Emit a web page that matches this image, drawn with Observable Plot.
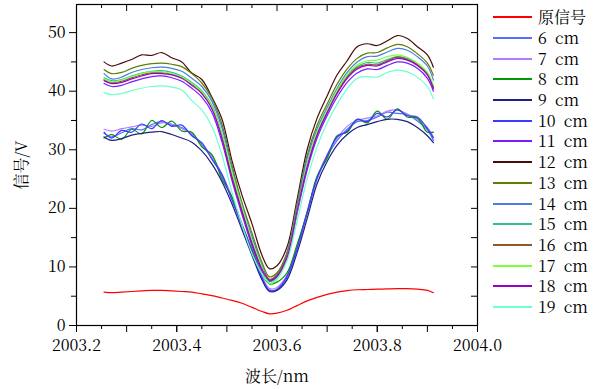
<!DOCTYPE html>
<html><head><meta charset="utf-8">
<script src="https://cdn.jsdelivr.net/npm/d3@7"></script>
<script src="https://cdn.jsdelivr.net/npm/@observablehq/plot@0.6"></script>
<style>
body{margin:0;background:#fff;}
#wrap{position:relative;width:601px;height:389px;color:#000;font-family:'Noto Serif CJK SC',serif;}
#legend{position:absolute;left:493px;top:7px;font-size:16px;line-height:1;font-family:'Noto Serif CJK SC',serif;}
.item{display:flex;align-items:center;height:20.7px;white-space:nowrap;line-height:1;}
.sw{display:block;width:39px;height:2px;margin-right:6px;flex:none;}
.lab{word-spacing:4px;line-height:1;}
</style></head><body><div id="wrap"><div id="legend"></div></div>
<script>
const wavelength = [2003.255,2003.27,2003.29,2003.31,2003.33,2003.35,2003.37,2003.39,2003.41,2003.43,
  2003.45,2003.47,2003.49,2003.51,2003.53,2003.55,2003.57,2003.585,2003.60,2003.62,
  2003.64,2003.66,2003.68,2003.70,2003.72,2003.74,2003.76,2003.78,2003.80,2003.82,
  2003.84,2003.86,2003.88,2003.90,2003.912];

const seriesNames = ["原信号","6 cm","7 cm","8 cm","9 cm","10 cm","11 cm","12 cm","13 cm","14 cm","15 cm","16 cm","17 cm","18 cm","19 cm"];
const seriesColors = ["#ff0000","#4f6fff","#b07cff","#009900","#202080","#3c3cff","#7a1cff","#4a0a0a","#5f7f00","#4a7fe0","#2fc08a","#8b5a2b","#7fff3a","#9a00c8","#6dffcf"];

const original = [5.7,5.6,5.7,5.8,5.9,6.0,6.0,5.9,5.8,5.7,5.4,5.1,4.7,4.3,3.8,3.1,2.4,2.0,2.1,2.6,3.4,4.2,4.8,5.3,5.7,5.95,6.1,6.15,6.2,6.25,6.3,6.3,6.2,6.0,5.6];
const cm6 = [32.8,32.2,32.9,33.6,33.4,34.3,34.8,34.2,33.8,32.6,30.8,28.6,25.5,21.6,17.0,12.5,8.0,5.9,6.1,8.2,13.0,19.0,25.0,28.8,31.6,33.5,34.8,35.0,35.6,36.4,36.2,36.0,34.9,33.4,31.6];
const cm7 = [33.5,33.2,33.6,33.9,34.2,34.0,34.6,34.4,33.6,32.8,31.0,28.9,25.9,22.0,17.4,12.9,8.4,6.3,6.5,8.6,13.3,19.4,25.3,29.2,32.0,34.0,35.0,35.4,35.8,36.6,36.8,36.1,35.2,33.8,32.2];
const cm8 = [32.0,32.6,31.8,33.5,32.7,35.0,33.8,34.9,33.2,33.0,30.5,29.2,25.0,22.0,17.2,13.0,8.8,7.1,7.4,9.0,13.8,19.2,25.5,28.5,32.4,33.0,35.2,34.6,36.6,35.2,37.0,35.6,35.4,33.0,33.0];
const cm9 = [32.2,31.6,31.9,32.5,32.8,33.0,33.1,32.6,32.0,31.3,29.8,27.6,24.6,20.8,16.4,12.0,7.8,5.8,6.0,7.8,12.4,18.2,24.2,28.0,30.8,32.6,33.8,34.3,34.8,35.2,35.2,34.8,33.8,32.4,31.2];
const cm10 = [33.0,32.0,33.3,33.0,34.4,33.6,35.0,34.0,34.2,32.4,31.2,28.4,25.8,21.4,17.2,12.6,8.2,6.0,6.2,8.4,13.2,19.3,25.2,29.0,32.2,33.2,35.2,34.8,36.2,35.6,36.8,35.8,35.6,33.6,32.0];
const cm11 = [41.3,40.8,41.0,41.6,42.1,42.5,42.6,42.3,41.7,40.5,39.0,36.4,31.4,24.8,19.0,13.6,9.3,7.5,8.2,11.4,19.1,26.5,32.0,35.8,39.0,41.5,43.1,43.8,43.7,44.4,45.0,44.8,43.9,42.2,40.0];
const cm12 = [45.0,44.3,44.8,45.4,46.2,46.1,46.6,45.7,45.0,43.1,42.0,39.0,35.3,28.2,22.3,17.4,12.0,9.7,10.2,13.4,21.5,30.0,35.4,39.2,42.8,45.2,47.6,48.1,47.8,48.6,49.5,49.0,47.6,46.2,44.1];
const cm13 = [43.7,43.0,43.2,43.9,44.4,44.7,44.8,44.6,44.2,43.0,41.4,38.8,34.4,27.4,21.0,15.8,10.8,8.3,9.0,12.5,20.8,29.0,34.2,37.8,41.2,43.8,45.6,46.5,46.6,47.4,48.0,47.6,46.4,44.8,42.7];
const cm14 = [43.0,42.1,42.4,43.2,43.7,44.0,44.1,43.9,43.4,42.2,40.8,38.3,33.8,26.8,20.5,15.2,10.3,7.8,8.6,12.3,20.3,28.5,33.6,37.2,40.5,43.2,45.0,45.9,46.0,46.7,47.3,47.0,45.9,44.3,41.9];
const cm15 = [42.3,41.8,42.0,42.6,43.1,43.4,43.5,43.2,42.6,41.5,40.1,37.6,32.8,26.0,20.0,14.4,9.8,7.6,8.4,11.9,19.8,27.6,33.0,36.7,40.0,42.6,44.2,44.9,44.8,45.4,45.9,45.6,44.6,43.0,40.8];
const cm16 = [42.0,41.5,41.7,42.3,42.8,43.2,43.2,42.9,42.3,41.2,39.8,37.3,32.5,25.6,19.8,14.3,9.9,7.9,8.7,12.0,19.6,27.2,32.7,36.4,39.8,42.4,44.0,44.6,44.5,45.2,45.8,45.4,44.5,42.9,40.6];
const cm17 = [42.1,41.6,41.9,42.5,43.0,43.3,43.3,43.0,42.4,41.3,39.9,37.4,32.8,26.2,20.3,14.6,10.0,7.2,7.9,11.5,19.4,27.5,33.1,36.8,40.2,42.8,44.5,45.2,45.3,45.9,46.2,45.8,44.8,43.2,41.0];
const cm18 = [41.8,41.3,41.5,42.1,42.6,43.0,43.0,42.8,42.2,41.0,39.6,37.0,32.0,25.2,19.5,14.0,9.6,7.7,8.4,11.6,19.5,27.0,32.5,36.3,39.6,42.2,43.8,44.4,44.3,45.0,45.6,45.3,44.4,42.8,40.4];
const cm19 = [39.8,39.4,39.6,40.1,40.5,40.8,40.9,40.7,40.2,38.4,36.8,34.0,29.2,22.8,17.2,12.3,8.8,7.3,8.0,11.0,17.8,25.0,30.5,34.6,37.8,40.4,42.2,42.5,42.4,43.2,43.6,43.3,42.4,40.8,38.7];

const xLabelTicks = [2003.2, 2003.4, 2003.6, 2003.8, 2004.0];
const xMajorTicks = [2003.2,2003.3,2003.4,2003.5,2003.6,2003.7,2003.8,2003.9,2004.0];
const xMinorTicks = [2003.25,2003.35,2003.45,2003.55,2003.65,2003.75,2003.85,2003.95];
const yLabelTicks = [0,10,20,30,40,50];
const yMinorTicks = [5,15,25,35,45];
const yAllTicks = [0,5,10,15,20,25,30,35,40,45,50];

const allValues = [original,cm6,cm7,cm8,cm9,cm10,cm11,cm12,cm13,cm14,cm15,cm16,cm17,cm18,cm19];
const rows = [];
allValues.forEach((vals, i) => vals.forEach((v, j) => rows.push({series: seriesNames[i], x: wavelength[j], y: v})));

const font = "'Noto Serif CJK SC', serif";
const plot = Plot.plot({
  width: 601, height: 389,
  marginLeft: 76, marginRight: 124, marginTop: 4, marginBottom: 64,
  style: {fontFamily: font, fontSize: "16px", color: "#000", background: "#fff"},
  x: {domain: [2003.2, 2004.0]},
  y: {domain: [0, 54.8]},
  color: {domain: seriesNames, range: seriesColors},
  marks: [
    Plot.line(rows, {x: "x", y: "y", z: "series", stroke: "series", strokeWidth: 1.2, curve: "catmull-rom"}),
    Plot.frame({stroke: "#000", strokeWidth: 1.2}),
    Plot.axisX({ticks: xLabelTicks, tickSize: 7, tickPadding: 7, tickFormat: d => d.toFixed(1), fontSize: 16,
      label: "波长/nm", labelAnchor: "center", labelArrow: "none", labelOffset: 56}),
    Plot.axisX({ticks: xMajorTicks, tickSize: 7, text: null, label: null}),
    Plot.axisX({ticks: xMinorTicks, tickSize: 4, text: null, label: null}),
    Plot.axisX({anchor: "top", ticks: xMajorTicks, tickSize: 6, dy: 6, text: null, label: null}),
    Plot.axisX({anchor: "top", ticks: xMinorTicks, tickSize: 3, dy: 3, text: null, label: null}),
    Plot.axisY({ticks: yLabelTicks, tickSize: 7, tickPadding: 4, fontSize: 16,
      label: "信号/V", labelAnchor: "center", labelArrow: "none", labelOffset: 61}),
    Plot.axisY({ticks: yMinorTicks, tickSize: 5, text: null, label: null}),
    Plot.axisY({anchor: "right", ticks: yAllTicks, tickSize: 7, dx: -7, text: null, label: null})
  ]
});
document.getElementById("wrap").prepend(plot);

const legend = document.getElementById("legend");
seriesNames.forEach((name, i) => {
  const item = document.createElement("div");
  item.className = "item";
  const sw = document.createElement("span");
  sw.className = "sw";
  sw.style.background = seriesColors[i];
  const lab = document.createElement("span");
  lab.className = "lab";
  lab.textContent = name;
  item.appendChild(sw);
  item.appendChild(lab);
  legend.appendChild(item);
});
</script>
</body></html>
